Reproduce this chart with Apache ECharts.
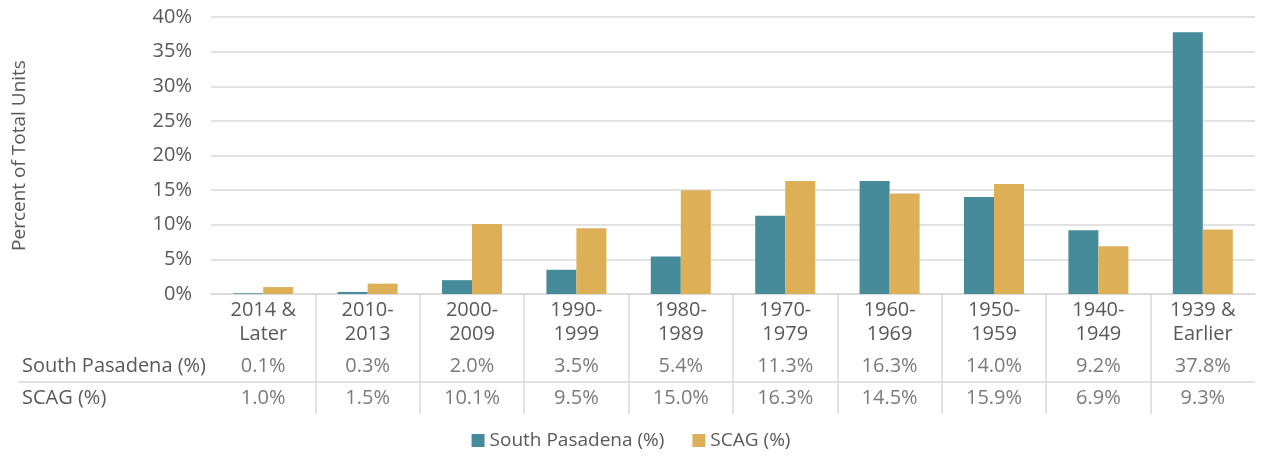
<!DOCTYPE html>
<html>
<head>
<meta charset="utf-8">
<script src="https://cdn.jsdelivr.net/npm/echarts@6/dist/echarts.min.js"></script>
<style>
  html, body { margin: 0; padding: 0; background: #fff; }
  #main { width: 1262px; height: 457px; }
</style>
</head>
<body>
<div id="main"></div>
<script>
// data
const categories = ['2014 &\nLater', '2010-\n2013', '2000-\n2009', '1990-\n1999', '1980-\n1989',
  '1970-\n1979', '1960-\n1969', '1950-\n1959', '1940-\n1949', '1939 &\nEarlier']
const southPasadena = [0.1, 0.3, 2.0, 3.5, 5.4, 11.3, 16.3, 14.0, 9.2, 37.8]
const scag = [1.0, 1.5, 10.1, 9.5, 15.0, 16.3, 14.5, 15.9, 6.9, 9.3]
const rowNames = ['South Pasadena (%)', 'SCAG (%)']
const yTicks = { min: 0, max: 40, interval: 5 }

const textColor = '#595959'
const lineColor = '#d9d9d9'
const font = 'Open Sans'
const teal = '#468b99'
const gold = '#ddaf56'

// table cells: [categoryIndex, rowIndex, value]
const tableCells = []
southPasadena.forEach((v, i) => tableCells.push([i, 0, v]))
scag.forEach((v, i) => tableCells.push([i, 1, v]))

var chart = echarts.init(document.getElementById('main'))
var option = {
  animation: false,
  textStyle: { fontFamily: font, color: textColor },
  legend: {
    bottom: 2,
    left: 'center',
    itemWidth: 13,
    itemHeight: 13,
    itemGap: 28,
    icon: 'rect',
    textStyle: { fontSize: 19, color: textColor, fontFamily: font },
    data: ['South Pasadena (%)', 'SCAG (%)']
  },
  grid: [
    { left: 211, right: 7, top: 17, height: 277 },   // bars
    { left: 211, right: 7, top: 294, height: 120 },  // vertical table lines
    { left: 18, right: 7, top: 350, height: 64 },    // row names + horizontal line
    { left: 211, right: 7, top: 350, height: 64 }    // table values
  ],
  xAxis: [
    {
      gridIndex: 0,
      type: 'category',
      data: categories,
      axisLine: { lineStyle: { color: lineColor, width: 1.5 } },
      axisTick: { show: false },
      axisLabel: { interval: 0, fontSize: 20, lineHeight: 24, color: textColor, margin: 4, fontFamily: font }
    },
    {
      gridIndex: 1,
      type: 'category',
      data: categories,
      axisLine: { show: false },
      axisTick: { show: false },
      axisLabel: { show: false },
      splitLine: { show: true, showMinLine: false, showMaxLine: false, lineStyle: { color: lineColor, width: 1.5 } }
    },
    {
      gridIndex: 2,
      type: 'value',
      show: false
    },
    {
      gridIndex: 3,
      type: 'category',
      data: categories,
      show: false
    }
  ],
  yAxis: [
    {
      gridIndex: 0,
      type: 'value',
      min: yTicks.min,
      max: yTicks.max,
      interval: yTicks.interval,
      name: 'Percent of Total Units',
      nameLocation: 'middle',
      nameGap: 182,
      nameTextStyle: { fontSize: 19, color: textColor, fontFamily: font },
      axisLine: { show: false },
      axisTick: { show: false },
      axisLabel: { formatter: '{value}%', fontSize: 20, color: textColor, margin: 19, fontFamily: font },
      splitLine: { lineStyle: { color: lineColor, width: 1.5 } }
    },
    {
      gridIndex: 1,
      type: 'value',
      show: false
    },
    {
      gridIndex: 2,
      type: 'category',
      inverse: true,
      data: rowNames,
      axisLine: { show: false },
      axisTick: { show: false },
      axisLabel: { inside: true, margin: 4, fontSize: 20, color: textColor, fontFamily: font },
      splitLine: { show: true, showMinLine: false, showMaxLine: false, lineStyle: { color: lineColor, width: 1.5 } }
    },
    {
      gridIndex: 3,
      type: 'category',
      inverse: true,
      data: rowNames,
      show: false
    }
  ],
  series: [
    {
      name: 'South Pasadena (%)',
      type: 'bar',
      xAxisIndex: 0,
      yAxisIndex: 0,
      barWidth: 30,
      barGap: '0%',
      itemStyle: { color: teal },
      data: southPasadena
    },
    {
      name: 'SCAG (%)',
      type: 'bar',
      xAxisIndex: 0,
      yAxisIndex: 0,
      barWidth: 30,
      barGap: '0%',
      itemStyle: { color: gold },
      data: scag
    },
    {
      type: 'scatter',
      xAxisIndex: 3,
      yAxisIndex: 3,
      symbolSize: 0,
      silent: true,
      label: {
        show: true,
        position: 'inside',
        fontSize: 20,
        color: textColor,
        fontFamily: font,
        formatter: p => p.value[2].toFixed(1) + '%'
      },
      data: tableCells
    }
  ]
}
option && chart.setOption(option)
</script>
</body>
</html>
